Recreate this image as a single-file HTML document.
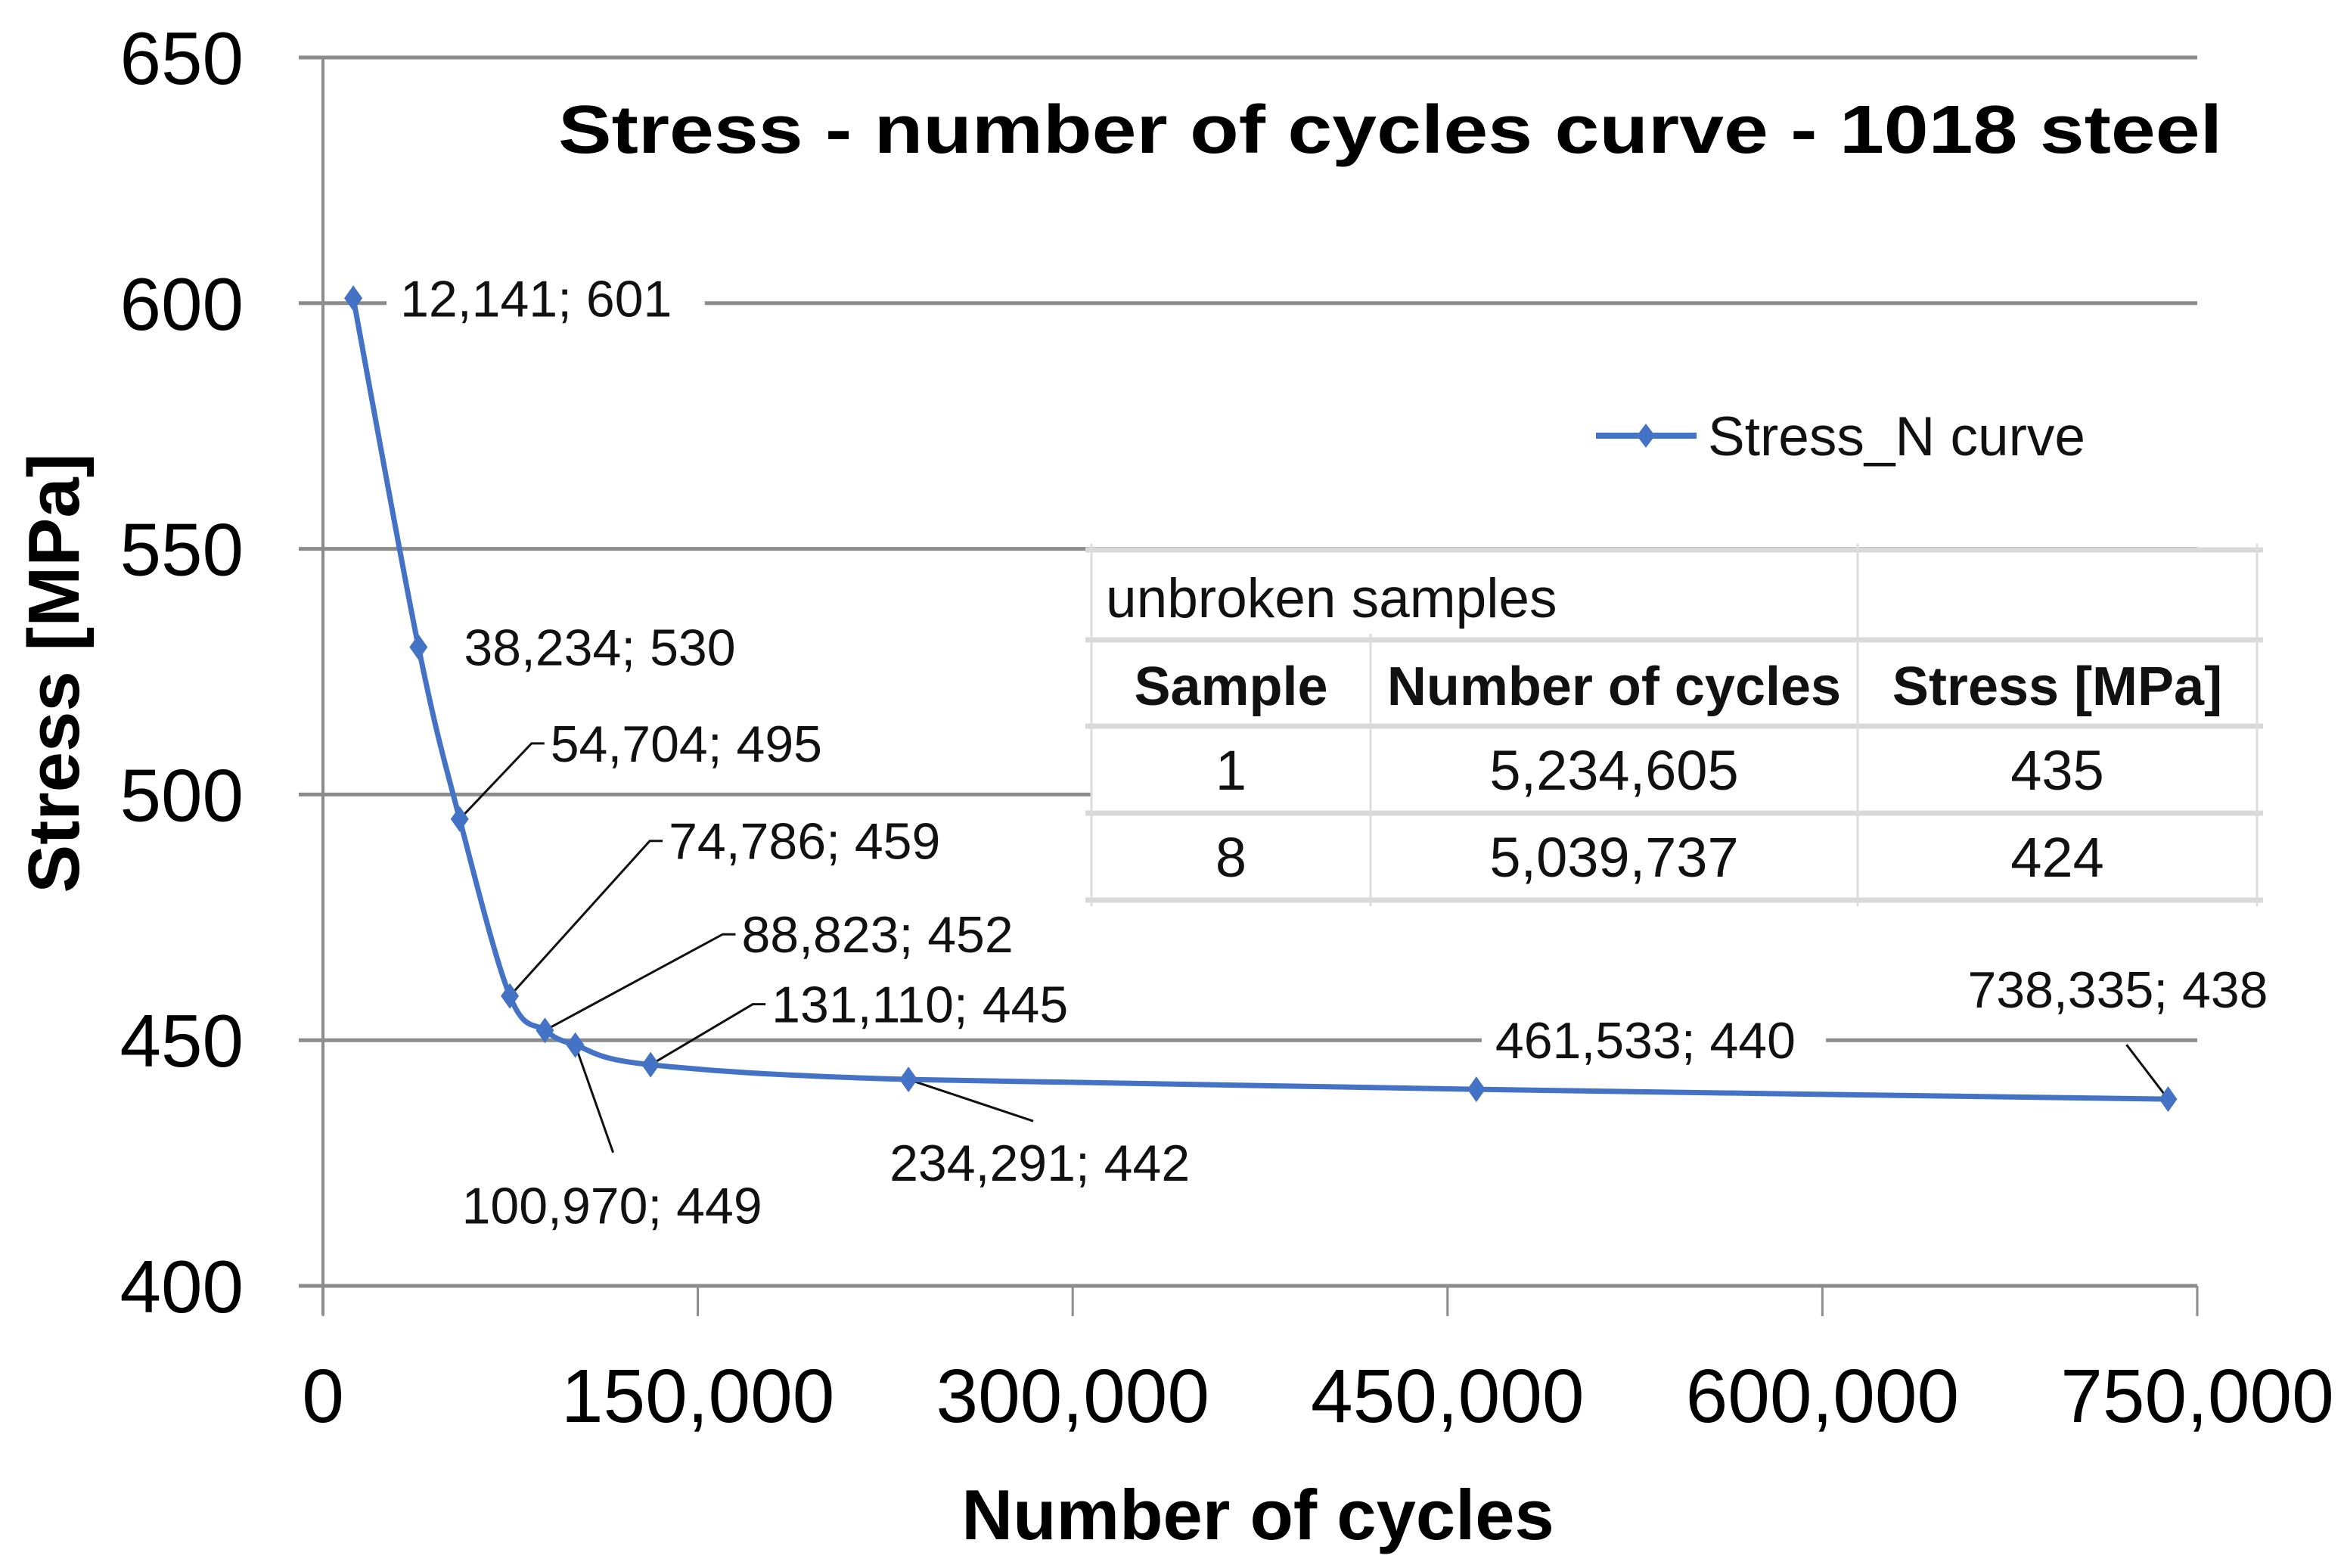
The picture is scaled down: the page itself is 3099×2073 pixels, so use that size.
<!DOCTYPE html>
<html><head><meta charset="utf-8"><style>
html,body{margin:0;padding:0;background:#fff;}
svg{display:block;font-family:"Liberation Sans",sans-serif;}
</style></head><body>
<svg id="chart" width="3099" height="2073" viewBox="0 0 3099 2073">
<text x="1838" y="202" font-size="90" font-weight="bold" text-anchor="middle" textLength="2200" lengthAdjust="spacingAndGlyphs">Stress - number of cycles curve - 1018 steel</text>
<g id="grid"></g>
<g id="axes"></g>
<g id="labels"></g>
<g id="series"></g>
<text x="1663" y="2035" font-size="94" font-weight="bold" text-anchor="middle">Number of cycles</text>
<text transform="translate(104,890) rotate(-90)" font-size="96" font-weight="bold" text-anchor="middle">Stress [MPa]</text>
<g>
<line x1="2110" y1="576" x2="2243" y2="576" stroke="#4472C4" stroke-width="8"/>
<path d="M2176 560 L2188 576 L2176 592 L2164 576 Z" fill="#4472C4"/>
<text x="2258" y="602" font-size="73" fill="#111">Stress_N curve</text>
</g>
<g id="table"></g>
</svg>
<script>
const xTicks=[0,150000,300000,450000,600000,750000];
const xTickLabels=["0","150,000","300,000","450,000","600,000","750,000"];
const yTicks=[400,450,500,550,600,650];
const cycles=[12141,38234,54704,74786,88823,100970,131110,234291,461533,738335];
const stress=[601,530,495,459,452,449,445,442,440,438];
const pointLabels=["12,141; 601","38,234; 530","54,704; 495","74,786; 459","88,823; 452","100,970; 449","131,110; 445","234,291; 442","461,533; 440","738,335; 438"];
const tableSamples=["1","8"];
const tableCycles=["5,234,605","5,039,737"];
const tableStress=["435","424"];

const NS="http://www.w3.org/2000/svg";
const X0=427,X1=2905,Y0=1700,Y1=76;
function sx(v){return X0+(v-0)/750000*(X1-X0);}
function sy(v){return Y0-(v-400)/250*(Y0-Y1);}
function mk(tag,attrs,parent){const e=document.createElementNS(NS,tag);for(const k in attrs)e.setAttribute(k,attrs[k]);parent.appendChild(e);return e;}
const grid=document.getElementById('grid'),axes=document.getElementById('axes'),labels=document.getElementById('labels'),series=document.getElementById('series'),table=document.getElementById('table');

yTicks.forEach((t,i)=>{
  const l=mk('line',{x1:395,x2:X1,y1:sy(t),y2:sy(t),stroke:'#8c8c8c','stroke-width':5},grid);
  
  
  const tx=mk('text',{x:322,y:sy(t)+35,'font-size':98,'text-anchor':'end'},axes);
  tx.textContent=String(t);
  
  
});
const ya=mk('line',{x1:X0,x2:X0,y1:Y1,y2:Y0+38,stroke:'#8c8c8c','stroke-width':4},axes);


xTicks.forEach((t,i)=>{
  const l=mk('line',{x1:sx(t),x2:sx(t),y1:Y0,y2:Y0+40,stroke:'#8c8c8c','stroke-width':3},axes);
  
  
  const tx=mk('text',{x:sx(t),y:1880,'font-size':100,'text-anchor':'middle'},axes);
  tx.textContent=xTickLabels[i];
  
  
});

const offs=[[62,0,0],[60,0,0],[120,-100,1],[210,-205,1],[260,-127,1],[-150,212,2],[160,-80,1],[-25,110,3],[25,-65,4],[-265,-145,5]];
cycles.forEach((c,i)=>{
  const px=sx(c),py=sy(stress[i]);const o=offs[i];
  const lx=px+o[0],ly=py+o[1];
  const w=pointLabels[i].length*34.6;
  const bg=mk('rect',{x:lx-18,y:ly-36,width:w+40,height:74,fill:'#fff'},labels);
  
  
  const tx=mk('text',{x:lx,y:ly+24,'font-size':68,fill:'#111'},labels);
  tx.textContent=pointLabels[i];
  
  
  let pts=null;
  if(o[2]===1)pts=`${px},${py} ${lx-25},${ly} ${lx-8},${ly}`;
  if(o[2]===2)pts=`${px},${py} ${px+50},${ly-70}`;
  if(o[2]===3)pts=`${px},${py} ${px+165},${py+55}`;
  if(o[2]===5)pts=`${px},${py} ${px-55},${py-72}`;
  if(pts){const pl=mk('polyline',{points:pts,fill:'none',stroke:'#111','stroke-width':3},labels);
    
    }
});

const P=cycles.map((c,i)=>[sx(c),sy(stress[i])]);
let d=`M${P[0][0]},${P[0][1]}`;
for(let i=0;i<P.length-1;i++){
  const p0=P[Math.max(0,i-1)],p1=P[i],p2=P[i+1],p3=P[Math.min(P.length-1,i+2)];
  const t=0.17;
  d+=` C${p1[0]+(p2[0]-p0[0])*t},${p1[1]+(p2[1]-p0[1])*t} ${p2[0]-(p3[0]-p1[0])*t},${p2[1]-(p3[1]-p1[1])*t} ${p2[0]},${p2[1]}`;
}
const cv=mk('path',{d:d,fill:'none',stroke:'#4472C4','stroke-width':7},series);


P.forEach(p=>{
  const m=mk('path',{d:`M${p[0]} ${p[1]-17} L${p[0]+12} ${p[1]} L${p[0]} ${p[1]+17} L${p[0]-12} ${p[1]} Z`,fill:'#4472C4'},series);
  
  
});

const TX=[1443,1812,2456,2984],TY=[727,846,960,1075,1190];
const tb=mk('rect',{x:TX[0],y:TY[0],width:TX[3]-TX[0],height:TY[4]-TY[0],fill:'#fff'},table);


TY.forEach(y=>{const l=mk('line',{x1:TX[0]-8,x2:TX[3]+8,y1:y,y2:y,stroke:'#d9d9d9','stroke-width':7},table);
  
  });
TX.forEach((x,i)=>{const l=mk('line',{x1:x,x2:x,y1:(i===1?TY[1]:TY[0])-8,y2:TY[4]+8,stroke:'#dcdcdc','stroke-width':3},table);
  
  });
function cell(txt,x,y,anchor,bold,name,fs){const t=mk('text',{x:x,y:y,'font-size':fs,'text-anchor':anchor,'font-weight':bold?'bold':'normal',fill:'#111'},table);
  t.textContent=txt;
  
  }
cell('unbroken samples',1462,816,'start',false,'table-caption',73);
cell('Sample',(TX[0]+TX[1])/2,932,'middle',true,'table-header-sample',72);
cell('Number of cycles',(TX[1]+TX[2])/2,932,'middle',true,'table-header-cycles',72);
cell('Stress [MPa]',(TX[2]+TX[3])/2,932,'middle',true,'table-header-stress',72);
tableSamples.forEach((s,i)=>{const y=TY[2+i]+84;
  cell(s,(TX[0]+TX[1])/2,y,'middle',false,'table-cell-sample',74);
  cell(tableCycles[i],(TX[1]+TX[2])/2,y,'middle',false,'table-cell-cycles',74);
  cell(tableStress[i],(TX[2]+TX[3])/2,y,'middle',false,'table-cell-stress',74);});
</script>
</body></html>
